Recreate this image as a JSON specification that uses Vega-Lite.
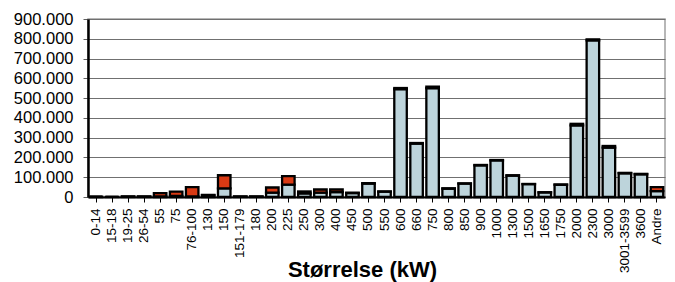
{
  "$schema": "https://vega.github.io/schema/vega-lite/v6.json",
  "autosize": "none",
  "width": 577,
  "height": 178,
  "padding": {"left": 88, "top": 19, "right": 10, "bottom": 85},
  "background": "white",
  "config": {
    "locale": {"number": {"decimal": ",", "thousands": ".", "grouping": [3], "currency": ["", ""]}},
    "view": {"stroke": "#a0a0a0", "strokeWidth": 1.5},
    "font": "Liberation Sans"
  },
  "data": {
    "values": [
      {"k": "0-14", "s": "A", "v": 2000}, {"k": "0-14", "s": "B", "v": 0},
      {"k": "15-18", "s": "A", "v": 1000}, {"k": "15-18", "s": "B", "v": 0},
      {"k": "19-25", "s": "A", "v": 2000}, {"k": "19-25", "s": "B", "v": 1000},
      {"k": "26-54", "s": "A", "v": 2000}, {"k": "26-54", "s": "B", "v": 1000},
      {"k": "55", "s": "A", "v": 3000}, {"k": "55", "s": "B", "v": 17000},
      {"k": "75", "s": "A", "v": 5000}, {"k": "75", "s": "B", "v": 22000},
      {"k": "76-100", "s": "A", "v": 3000}, {"k": "76-100", "s": "B", "v": 47000},
      {"k": "130", "s": "A", "v": 8000}, {"k": "130", "s": "B", "v": 3000},
      {"k": "150", "s": "A", "v": 44000}, {"k": "150", "s": "B", "v": 66000},
      {"k": "151-179", "s": "A", "v": 2000}, {"k": "151-179", "s": "B", "v": 1000},
      {"k": "180", "s": "A", "v": 2000}, {"k": "180", "s": "B", "v": 1000},
      {"k": "200", "s": "A", "v": 22000}, {"k": "200", "s": "B", "v": 26000},
      {"k": "225", "s": "A", "v": 63000}, {"k": "225", "s": "B", "v": 43000},
      {"k": "250", "s": "A", "v": 18000}, {"k": "250", "s": "B", "v": 10000},
      {"k": "300", "s": "A", "v": 22000}, {"k": "300", "s": "B", "v": 16000},
      {"k": "400", "s": "A", "v": 25000}, {"k": "400", "s": "B", "v": 13000},
      {"k": "450", "s": "A", "v": 20000}, {"k": "450", "s": "B", "v": 2000},
      {"k": "500", "s": "A", "v": 68000}, {"k": "500", "s": "B", "v": 2000},
      {"k": "550", "s": "A", "v": 27000}, {"k": "550", "s": "B", "v": 1000},
      {"k": "600", "s": "A", "v": 545000}, {"k": "600", "s": "B", "v": 6000},
      {"k": "660", "s": "A", "v": 270000}, {"k": "660", "s": "B", "v": 3000},
      {"k": "750", "s": "A", "v": 550000}, {"k": "750", "s": "B", "v": 8000},
      {"k": "800", "s": "A", "v": 42000}, {"k": "800", "s": "B", "v": 2000},
      {"k": "850", "s": "A", "v": 68000}, {"k": "850", "s": "B", "v": 1000},
      {"k": "900", "s": "A", "v": 160000}, {"k": "900", "s": "B", "v": 2000},
      {"k": "1000", "s": "A", "v": 185000}, {"k": "1000", "s": "B", "v": 2000},
      {"k": "1300", "s": "A", "v": 108000}, {"k": "1300", "s": "B", "v": 2000},
      {"k": "1500", "s": "A", "v": 65000}, {"k": "1500", "s": "B", "v": 1000},
      {"k": "1650", "s": "A", "v": 23000}, {"k": "1650", "s": "B", "v": 1000},
      {"k": "1750", "s": "A", "v": 62000}, {"k": "1750", "s": "B", "v": 1000},
      {"k": "2000", "s": "A", "v": 362000}, {"k": "2000", "s": "B", "v": 8000},
      {"k": "2300", "s": "A", "v": 792000}, {"k": "2300", "s": "B", "v": 5000},
      {"k": "3000", "s": "A", "v": 250000}, {"k": "3000", "s": "B", "v": 8000},
      {"k": "3001-3599", "s": "A", "v": 120000}, {"k": "3001-3599", "s": "B", "v": 2000},
      {"k": "3600", "s": "A", "v": 115000}, {"k": "3600", "s": "B", "v": 2000},
      {"k": "Andre", "s": "A", "v": 30000}, {"k": "Andre", "s": "B", "v": 20000}
    ]
  },
  "mark": {"type": "bar", "stroke": "black", "strokeWidth": 2.3},
  "encoding": {
    "x": {
      "field": "k", "type": "nominal", "sort": null,
      "scale": {"paddingInner": 0.22, "paddingOuter": 0.11},
      "axis": {
        "title": "Størrelse (kW)", "titleFontSize": 22, "titleFontWeight": "bold", "titleColor": "black",
        "titleX": 274, "titleY": 62, "titleAlign": "center", "titleBaseline": "top",
        "labelAngle": -90, "labelFontSize": 13.5, "labelColor": "black", "labelPadding": 6,
        "tickSize": 5, "tickColor": "black", "domainColor": "black", "domainWidth": 2, "grid": false
      }
    },
    "y": {
      "field": "v", "type": "quantitative", "aggregate": "sum", "stack": "zero",
      "scale": {"domain": [0, 900000], "nice": false},
      "axis": {
        "title": null, "values": [0, 100000, 200000, 300000, 400000, 500000, 600000, 700000, 800000, 900000],
        "format": ",d", "labelFontSize": 16.5, "labelColor": "black", "labelPadding": 10,
        "tickSize": 5, "tickColor": "#606060", "domainColor": "black", "domainWidth": 2.5,
        "gridColor": "#707070", "gridWidth": 1.2
      }
    },
    "color": {
      "field": "s", "type": "nominal",
      "scale": {"domain": ["A", "B"], "range": ["#bdd4db", "#d93a14"]},
      "legend": null
    },
    "order": {"field": "s", "type": "nominal", "sort": "ascending"}
  }
}
